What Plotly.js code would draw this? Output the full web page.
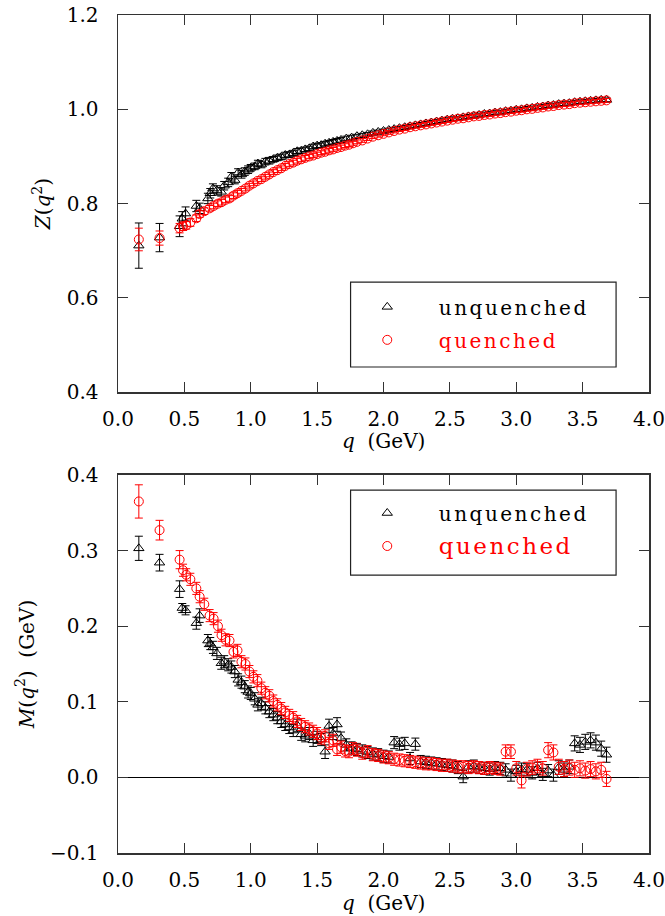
<!DOCTYPE html>
<html>
<head>
<meta charset="utf-8">
<script src="https://cdn.plot.ly/plotly-3.0.1.min.js"></script>
<style>
  html, body { margin: 0; padding: 0; background: #fff; }
  #chart { width: 665px; height: 916px; }
  .legendtext, g.legend text, g.legend2 text, [class^="legend"] text { letter-spacing: 2.5px; }
</style>
</head>
<body>
<div id="chart"></div>
<script>
// ---- data ----
const qUnq = [
  0.157, 0.313, 0.464, 0.484, 0.509, 0.590, 0.615, 0.677, 0.695, 0.715,
  0.745, 0.778, 0.800, 0.830, 0.854, 0.880, 0.905, 0.930, 0.955, 0.980,
  1.000, 1.030, 1.054, 1.080, 1.110, 1.140, 1.170, 1.200, 1.230, 1.260,
  1.290, 1.320, 1.350, 1.380, 1.410, 1.440, 1.470, 1.500, 1.530, 1.560,
  1.590, 1.620, 1.650, 1.680, 1.720, 1.760, 1.800, 1.840, 1.880, 1.920,
  1.960, 2.000, 2.040, 2.080, 2.120, 2.160, 2.200, 2.240, 2.280, 2.320,
  2.360, 2.400, 2.440, 2.480, 2.520, 2.560, 2.600, 2.640, 2.680, 2.720,
  2.760, 2.800, 2.840, 2.880, 2.920, 2.960, 3.000, 3.040, 3.080, 3.120,
  3.160, 3.200, 3.240, 3.280, 3.320, 3.360, 3.400, 3.440, 3.480, 3.520,
  3.560, 3.600, 3.640, 3.680
];
const zUnq = [
  0.711, 0.728, 0.752, 0.768, 0.779, 0.795, 0.790, 0.811, 0.822, 0.832,
  0.828, 0.825, 0.838, 0.845, 0.857, 0.850, 0.866, 0.862, 0.868, 0.872,
  0.876, 0.879, 0.885, 0.883, 0.889, 0.891, 0.894, 0.897, 0.899, 0.903,
  0.904, 0.907, 0.911, 0.912, 0.915, 0.917, 0.921, 0.923, 0.924, 0.927,
  0.929, 0.931, 0.933, 0.935, 0.938, 0.940, 0.943, 0.945, 0.947, 0.950,
  0.952, 0.954, 0.956, 0.958, 0.960, 0.962, 0.964, 0.966, 0.968, 0.970,
  0.972, 0.974, 0.976, 0.978, 0.980, 0.981, 0.983, 0.985, 0.986, 0.988,
  0.990, 0.991, 0.993, 0.994, 0.996, 0.997, 0.999, 1.000, 1.002, 1.003,
  1.005, 1.006, 1.008, 1.009, 1.011, 1.012, 1.013, 1.015, 1.016, 1.017,
  1.018, 1.019, 1.020, 1.020
];
const zUnqErr = [
  0.048, 0.030, 0.022, 0.015, 0.014, 0.012, 0.011, 0.011, 0.010, 0.010,
  0.010, 0.009, 0.009, 0.009, 0.009, 0.008, 0.008, 0.008, 0.008, 0.008,
  0.007, 0.007, 0.007, 0.007, 0.007, 0.007, 0.006, 0.006, 0.006, 0.006,
  0.006, 0.006, 0.006, 0.006, 0.005, 0.005, 0.005, 0.005, 0.005, 0.005,
  0.005, 0.005, 0.005, 0.005, 0.005, 0.005, 0.004, 0.004, 0.004, 0.004,
  0.004, 0.004, 0.004, 0.004, 0.004, 0.004, 0.004, 0.004, 0.004, 0.004,
  0.004, 0.004, 0.004, 0.004, 0.004, 0.004, 0.004, 0.004, 0.004, 0.004,
  0.004, 0.004, 0.004, 0.004, 0.004, 0.004, 0.004, 0.004, 0.004, 0.004,
  0.004, 0.004, 0.004, 0.004, 0.004, 0.004, 0.004, 0.004, 0.004, 0.004,
  0.004, 0.004, 0.004, 0.004
];
const mUnq = [
  0.303, 0.284, 0.249, 0.224, 0.221, 0.204, 0.214, 0.181, 0.177, 0.172,
  0.164, 0.151, 0.153, 0.149, 0.146, 0.140, 0.129, 0.126, 0.120, 0.113,
  0.111, 0.104, 0.096, 0.098, 0.092, 0.087, 0.083, 0.079, 0.074, 0.070,
  0.066, 0.062, 0.069, 0.057, 0.055, 0.058, 0.049, 0.053, 0.050, 0.034,
  0.068, 0.058, 0.070, 0.052, 0.043, 0.039, 0.037, 0.035, 0.033, 0.031,
  0.030, 0.028, 0.027, 0.046, 0.044, 0.045, 0.025, 0.044, 0.021, 0.020,
  0.019, 0.018, 0.017, 0.016, 0.015, 0.013, 0.001, 0.014, 0.015, 0.013,
  0.012, 0.011, 0.013, 0.012, 0.010, 0.003, 0.008, 0.011, 0.010, 0.006,
  0.012, 0.004, 0.009, 0.003, 0.013, 0.010, 0.014, 0.045, 0.043, 0.047,
  0.049, 0.046, 0.038, 0.030
];
const mUnqErr = [
  0.016, 0.011, 0.011, 0.006, 0.006, 0.008, 0.009, 0.008, 0.008, 0.008,
  0.008, 0.008, 0.008, 0.008, 0.008, 0.008, 0.008, 0.008, 0.008, 0.008,
  0.008, 0.008, 0.008, 0.008, 0.008, 0.008, 0.008, 0.008, 0.008, 0.008,
  0.008, 0.008, 0.008, 0.008, 0.008, 0.008, 0.008, 0.008, 0.008, 0.009,
  0.009, 0.008, 0.009, 0.008, 0.008, 0.008, 0.008, 0.008, 0.008, 0.008,
  0.008, 0.008, 0.008, 0.008, 0.008, 0.008, 0.008, 0.008, 0.008, 0.008,
  0.008, 0.008, 0.008, 0.008, 0.008, 0.008, 0.008, 0.008, 0.008, 0.008,
  0.008, 0.008, 0.008, 0.008, 0.008, 0.008, 0.008, 0.008, 0.008, 0.008,
  0.008, 0.008, 0.008, 0.008, 0.009, 0.009, 0.009, 0.010, 0.010, 0.010,
  0.010, 0.010, 0.010, 0.010
];

const qQue = [
  0.157, 0.313, 0.464, 0.490, 0.514, 0.545, 0.590, 0.615, 0.650, 0.690,
  0.720, 0.753, 0.780, 0.810, 0.840, 0.870, 0.900, 0.930, 0.960, 0.990,
  1.020, 1.050, 1.080, 1.110, 1.140, 1.170, 1.200, 1.230, 1.260, 1.290,
  1.320, 1.350, 1.380, 1.410, 1.440, 1.470, 1.500, 1.530, 1.560, 1.590,
  1.620, 1.650, 1.680, 1.710, 1.740, 1.770, 1.800, 1.840, 1.880, 1.920,
  1.960, 2.000, 2.040, 2.080, 2.120, 2.160, 2.200, 2.240, 2.280, 2.320,
  2.360, 2.400, 2.440, 2.480, 2.520, 2.560, 2.600, 2.640, 2.680, 2.720,
  2.760, 2.800, 2.840, 2.880, 2.920, 2.960, 3.000, 3.040, 3.080, 3.120,
  3.160, 3.200, 3.240, 3.280, 3.320, 3.360, 3.400, 3.440, 3.480, 3.520,
  3.560, 3.600, 3.640, 3.680
];
const zQue = [
  0.724, 0.727, 0.748, 0.752, 0.754, 0.760, 0.769, 0.778, 0.784, 0.790,
  0.795, 0.800, 0.803, 0.808, 0.811, 0.817, 0.822, 0.827, 0.832, 0.838,
  0.843, 0.848, 0.852, 0.857, 0.862, 0.867, 0.871, 0.875, 0.880, 0.884,
  0.887, 0.891, 0.894, 0.897, 0.900, 0.902, 0.905, 0.908, 0.910, 0.913,
  0.915, 0.918, 0.920, 0.923, 0.925, 0.928, 0.931, 0.934, 0.938, 0.942,
  0.945, 0.948, 0.951, 0.954, 0.957, 0.959, 0.962, 0.964, 0.966, 0.968,
  0.970, 0.972, 0.974, 0.976, 0.978, 0.980, 0.981, 0.983, 0.985, 0.986,
  0.988, 0.989, 0.991, 0.992, 0.994, 0.995, 0.997, 0.998, 1.000, 1.001,
  1.003, 1.004, 1.006, 1.007, 1.009, 1.010, 1.011, 1.013, 1.014, 1.015,
  1.016, 1.017, 1.018, 1.019
];
const zQueErr = [
  0.024, 0.015, 0.010, 0.009, 0.008, 0.008, 0.007, 0.007, 0.007, 0.006,
  0.006, 0.006, 0.006, 0.006, 0.006, 0.006, 0.006, 0.005, 0.005, 0.005,
  0.005, 0.005, 0.005, 0.005, 0.005, 0.005, 0.005, 0.005, 0.005, 0.005,
  0.005, 0.005, 0.005, 0.005, 0.004, 0.004, 0.004, 0.004, 0.004, 0.004,
  0.004, 0.004, 0.004, 0.004, 0.004, 0.004, 0.004, 0.004, 0.004, 0.004,
  0.004, 0.004, 0.004, 0.004, 0.004, 0.004, 0.004, 0.004, 0.004, 0.004,
  0.004, 0.004, 0.004, 0.004, 0.004, 0.004, 0.004, 0.004, 0.004, 0.004,
  0.004, 0.004, 0.004, 0.004, 0.004, 0.004, 0.004, 0.004, 0.004, 0.004,
  0.004, 0.004, 0.004, 0.004, 0.004, 0.004, 0.004, 0.004, 0.004, 0.004,
  0.004, 0.004, 0.004, 0.004
];
const mQue = [
  0.365, 0.327, 0.288, 0.274, 0.268, 0.262, 0.250, 0.239, 0.229, 0.214,
  0.210, 0.200, 0.188, 0.182, 0.181, 0.166, 0.168, 0.153, 0.150, 0.140,
  0.133, 0.128, 0.118, 0.112, 0.108, 0.101, 0.096, 0.091, 0.086, 0.082,
  0.079, 0.074, 0.070, 0.067, 0.064, 0.061, 0.058, 0.052, 0.055, 0.045,
  0.049, 0.037, 0.040, 0.035, 0.034, 0.038, 0.036, 0.032, 0.034, 0.030,
  0.029, 0.027, 0.026, 0.024, 0.023, 0.022, 0.021, 0.020, 0.019, 0.018,
  0.018, 0.017, 0.016, 0.016, 0.015, 0.014, 0.014, 0.013, 0.014, 0.013,
  0.012, 0.013, 0.012, 0.011, 0.034, 0.034, 0.012, -0.004, 0.011, 0.013,
  0.015, 0.012, 0.036, 0.033, 0.014, 0.011, 0.013, 0.010, 0.012, 0.009,
  0.011, 0.008, 0.010, -0.002
];
const mQueErr = [
  0.022, 0.013, 0.012, 0.008, 0.008, 0.008, 0.008, 0.008, 0.008, 0.008,
  0.008, 0.008, 0.008, 0.008, 0.008, 0.008, 0.008, 0.008, 0.008, 0.008,
  0.008, 0.008, 0.008, 0.008, 0.008, 0.008, 0.008, 0.008, 0.008, 0.008,
  0.008, 0.008, 0.008, 0.008, 0.008, 0.008, 0.008, 0.008, 0.008, 0.008,
  0.008, 0.008, 0.008, 0.008, 0.008, 0.008, 0.008, 0.008, 0.008, 0.008,
  0.008, 0.008, 0.008, 0.008, 0.008, 0.008, 0.008, 0.008, 0.008, 0.008,
  0.008, 0.008, 0.008, 0.008, 0.008, 0.008, 0.008, 0.008, 0.008, 0.008,
  0.008, 0.008, 0.008, 0.008, 0.009, 0.009, 0.009, 0.010, 0.009, 0.009,
  0.009, 0.009, 0.010, 0.010, 0.010, 0.010, 0.010, 0.010, 0.010, 0.010,
  0.010, 0.010, 0.010, 0.010
];

const seriesNames = ['unquenched', 'quenched'];
const xTicks = [0, 0.5, 1.0, 1.5, 2.0, 2.5, 3.0, 3.5, 4.0];
const xTitle = '<i>q</i>&nbsp;&nbsp;(GeV)';
const yTitleTop = '<i>Z</i>(<i>q</i><sup>2</sup>)';
const yTitleBottom = '<i>M</i>(<i>q</i><sup>2</sup>)&nbsp;&nbsp;(GeV)';

// ---- styling ----
const FONT = 'DejaVu Serif, Liberation Serif, serif';
const BLACK = '#000000';
const RED = '#ff0000';
const FRAME = '#333333';
const PAD = '&nbsp;&nbsp;&nbsp;';

function mk(x, y, err, name, color, symbol, xa, ya, legendId, group) {
  return {
    type: 'scatter', mode: 'markers',
    x: x, y: y, xaxis: xa, yaxis: ya,
    name: name, legend: legendId, showlegend: true,
    legendgroup: group,
    marker: { symbol: symbol, size: 9, color: color, line: { color: color, width: 1 } },
    error_y: { type: 'data', array: err, visible: true, color: color, thickness: 1, width: 4 },
    hoverinfo: 'skip'
  };
}

const nameU = PAD + seriesNames[0];
const nameQtop = PAD + '<span style="color:' + RED + '">' + seriesNames[1] + '</span>';
const nameQbot = PAD + '<span style="color:' + RED + ';font-size:23px">' + seriesNames[1] + '</span>';

const data = [
  mk(qUnq, zUnq, zUnqErr, nameU, BLACK, 'triangle-up-open', 'x', 'y', 'legend', 'a1'),
  mk(qQue, zQue, zQueErr, nameQtop, RED, 'circle-open', 'x', 'y', 'legend', 'a2'),
  mk(qUnq, mUnq, mUnqErr, nameU, BLACK, 'triangle-up-open', 'x2', 'y2', 'legend2', 'b1'),
  mk(qQue, mQue, mQueErr, nameQbot, RED, 'circle-open', 'x2', 'y2', 'legend2', 'b2')
];

function xAxis(anchor) {
  return {
    anchor: anchor, domain: [0, 1], range: [0, 4],
    tickmode: 'array', tickvals: xTicks, tickformat: '.1f',
    ticks: 'inside', ticklen: 10, tickwidth: 1, tickcolor: FRAME,
    showline: true, linecolor: FRAME, linewidth: 1.5, mirror: 'ticks',
    showgrid: false, zeroline: false,
    tickfont: { family: FONT, size: 20, color: BLACK },
    ticklabelstandoff: 8,
    automargin: false
  };
}

const legendBase = {
  bgcolor: 'rgba(0,0,0,0)', borderwidth: 0,
  font: { family: FONT, size: 20, color: BLACK },
  xanchor: 'left', yanchor: 'top',
  traceorder: 'grouped', tracegroupgap: 4, itemwidth: 40
};

const titleFont = { family: FONT, size: 20, color: BLACK };

const layout = {
  width: 665, height: 916,
  margin: { l: 118, r: 16, t: 15, b: 63 },
  paper_bgcolor: '#ffffff', plot_bgcolor: '#ffffff',
  showlegend: true,
  xaxis: xAxis('y'),
  xaxis2: xAxis('y2'),
  yaxis: {
    anchor: 'x', domain: [0.5498, 1], range: [0.4, 1.2], dtick: 0.2, tick0: 0, tickformat: '.1f',
    ticks: 'inside', ticklen: 10, tickwidth: 1, tickcolor: FRAME,
    showline: true, linecolor: FRAME, linewidth: 1.5, mirror: 'ticks',
    showgrid: false, zeroline: false,
    tickfont: { family: FONT, size: 20, color: BLACK },
    ticklabelstandoff: 14,
    title: { text: yTitleTop, font: titleFont, standoff: 10 },
    automargin: false
  },
  yaxis2: {
    anchor: 'x2', domain: [0, 0.4511], range: [-0.1, 0.4], dtick: 0.1, tick0: 0, tickformat: '.1f',
    ticks: 'inside', ticklen: 10, tickwidth: 1, tickcolor: FRAME,
    showline: true, linecolor: FRAME, linewidth: 1.5, mirror: 'ticks',
    showgrid: false, zeroline: true, zerolinecolor: BLACK, zerolinewidth: 1,
    tickfont: { family: FONT, size: 20, color: BLACK },
    ticklabelstandoff: 14,
    title: { text: yTitleBottom, font: titleFont, standoff: 10 },
    automargin: false
  },
  legend: Object.assign({}, legendBase, { x: 0.46, y: 0.675 }),
  legend2: Object.assign({}, legendBase, { x: 0.46, y: 0.429 }),
  annotations: [
    { text: xTitle, xref: 'x domain', yref: 'y domain', x: 0.5, y: -0.13,
      xanchor: 'center', yanchor: 'middle', showarrow: false, font: titleFont },
    { text: xTitle, xref: 'x2 domain', yref: 'y2 domain', x: 0.5, y: -0.133,
      xanchor: 'center', yanchor: 'middle', showarrow: false, font: titleFont }
  ],
  shapes: [
    { type: 'rect', xref: 'x domain', yref: 'y domain', x0: 0.438, x1: 0.938, y0: 0.067, y1: 0.292,
      line: { color: '#222', width: 1.2 }, fillcolor: 'rgba(0,0,0,0)', layer: 'above' },
    { type: 'rect', xref: 'x2 domain', yref: 'y2 domain', x0: 0.438, x1: 0.938, y0: 0.735, y1: 0.960,
      line: { color: '#222', width: 1.2 }, fillcolor: 'rgba(0,0,0,0)', layer: 'above' }
  ]
};

function spaceLegends() {
  const root = document.getElementById('chart');
  root.querySelectorAll('.infolayer g').forEach(function (g) {
    const cls = g.getAttribute('class') || '';
    if (/^legend/.test(cls)) {
      g.querySelectorAll('text').forEach(function (t) { t.style.letterSpacing = '2.5px'; });
    }
  });
  root.querySelectorAll('text.legendtext').forEach(function (t) { t.style.letterSpacing = '2.5px'; });
}

Plotly.newPlot('chart', data, layout, { staticPlot: true, displayModeBar: false }).then(function () {
  spaceLegends();
  setTimeout(spaceLegends, 50);
});
</script>
</body>
</html>
